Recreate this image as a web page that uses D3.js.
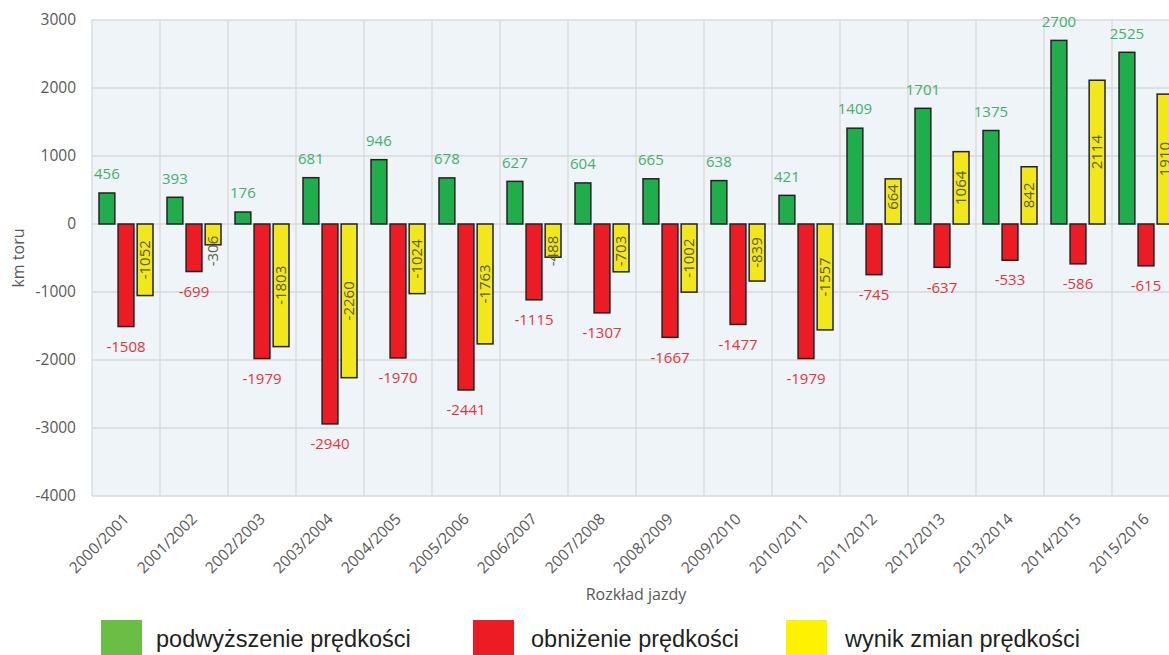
<!DOCTYPE html>
<html>
<head>
<meta charset="utf-8">
<script src="https://cdn.jsdelivr.net/npm/d3@7"></script>
<style>
  body { margin: 0; background: #fff; }
  svg { display: block; font-family: "Open Sans", sans-serif; }
</style>
</head>
<body>
<div id="container"></div>
<script>
const width = 1169;
const height = 655;

const seasons = ['2000/2001','2001/2002','2002/2003','2003/2004','2004/2005','2005/2006','2006/2007','2007/2008',
  '2008/2009','2009/2010','2010/2011','2011/2012','2012/2013','2013/2014','2014/2015','2015/2016'];
const increase = [456, 393, 176, 681, 946, 678, 627, 604, 665, 638, 421, 1409, 1701, 1375, 2700, 2525];
const decrease = [-1508, -699, -1979, -2940, -1970, -2441, -1115, -1307, -1667, -1477, -1979, -745, -637, -533, -586, -615];
const net = [-1052, -306, -1803, -2260, -1024, -1763, -488, -703, -1002, -839, -1557, 664, 1064, 842, 2114, 1910];
const seriesNames = ['podwyższenie prędkości', 'obniżenie prędkości', 'wynik zmian prędkości'];
const yTicks = [-4000, -3000, -2000, -1000, 0, 1000, 2000, 3000];

const barColors = ['#1fae4b', '#ed1c24', '#f2e71c'];
const legendColors = ['#6cbd45', '#ed1c24', '#fff200'];

const svg = d3.select("#container")
  .append("svg")
  .attr("width", width)
  .attr("height", height);

const x = d3.scaleBand().domain(seasons).range([92, 92 + 68 * seasons.length]);
const x1 = d3.scaleBand().domain([0, 1, 2]).range([7, 61]).paddingInner(0.17);
const y = d3.scaleLinear().domain([-4000, 3000]).range([496, 20]);

// plot background
svg.append("rect")
  .attr("x", x.range()[0]).attr("y", y(3000))
  .attr("width", x.range()[1] - x.range()[0])
  .attr("height", y(-4000) - y(3000))
  .attr("fill", "#eff4f8");

// grid
svg.append("g")
  .selectAll("line")
  .data(yTicks)
  .enter().append("line")
  .attr("x1", x.range()[0]).attr("x2", x.range()[1])
  .attr("y1", d => y(d)).attr("y2", d => y(d))
  .attr("stroke", "#d9d9d9").attr("stroke-width", 1.3);

svg.append("g")
  .selectAll("line")
  .data(seasons.concat(["end"]))
  .enter().append("line")
  .attr("x1", (d, i) => x.range()[0] + i * x.step())
  .attr("x2", (d, i) => x.range()[0] + i * x.step())
  .attr("y1", y(3000)).attr("y2", y(-4000))
  .attr("stroke", "#d9d9d9").attr("stroke-width", 1.3);

// y axis labels
svg.append("g")
  .selectAll("text")
  .data(yTicks)
  .enter().append("text")
  .attr("x", 76)
  .attr("y", d => y(d))
  .attr("dy", "0.35em")
  .attr("text-anchor", "end")
  .attr("fill", "#595959")
  .attr("font-size", 15.5)
  .text(d => d);

svg.append("text")
  .attr("transform", `translate(24, 258) rotate(-90)`)
  .attr("text-anchor", "middle")
  .attr("fill", "#595959")
  .attr("font-size", 16)
  .text("km toru");

// x axis labels
svg.append("g")
  .selectAll("text")
  .data(seasons)
  .enter().append("text")
  .attr("transform", d => `translate(${x(d) + x.bandwidth() / 2 + 4}, 520) rotate(-45)`)
  .attr("text-anchor", "end")
  .attr("fill", "#595959")
  .attr("font-size", 15.5)
  .text(d => d);

svg.append("text")
  .attr("x", 636).attr("y", 600)
  .attr("text-anchor", "middle")
  .attr("fill", "#595959")
  .attr("font-size", 16)
  .text("Rozkład jazdy");

// bars
const rows = seasons.map((s, i) => ({ season: s, vals: [increase[i], decrease[i], net[i]] }));

const groups = svg.append("g")
  .selectAll("g")
  .data(rows)
  .enter().append("g")
  .attr("transform", d => `translate(${x(d.season)},0)`);

groups.selectAll("rect")
  .data(d => d.vals.map((v, k) => ({ v, k })))
  .enter().append("rect")
  .attr("x", d => x1(d.k))
  .attr("width", x1.bandwidth())
  .attr("y", d => y(Math.max(0, d.v)))
  .attr("height", d => Math.abs(y(d.v) - y(0)))
  .attr("fill", d => barColors[d.k])
  .attr("stroke", "#222")
  .attr("stroke-width", 1.5);

// green labels above
groups.append("text")
  .attr("x", x1(0) + x1.bandwidth() / 2)
  .attr("y", d => y(d.vals[0]) - 19)
  .attr("dy", "0.35em")
  .attr("text-anchor", "middle")
  .attr("fill", "#44b06b")
  .attr("font-size", 15)
  .text(d => d.vals[0]);

// red labels below
groups.append("text")
  .attr("x", x1(1) + x1.bandwidth() / 2)
  .attr("y", d => y(d.vals[1]) + 20)
  .attr("dy", "0.35em")
  .attr("text-anchor", "middle")
  .attr("fill", "#e2353c")
  .attr("font-size", 15)
  .text(d => d.vals[1]);

// yellow labels rotated, inside bar
groups.append("text")
  .attr("transform", d => {
    const v = d.vals[2];
    const half = Math.abs(y(v) - y(0)) / 2;
    const off = Math.max(half, 27);
    const cy = v < 0 ? y(0) + off : y(0) - off;
    return `translate(${x1(2) + x1.bandwidth() / 2}, ${cy}) rotate(-90)`;
  })
  .attr("dy", "0.35em")
  .attr("text-anchor", "middle")
  .attr("fill", "#5e5e45")
  .attr("font-size", 15)
  .text(d => d.vals[2]);

// legend
const legendX = [101, 473, 786];
const legend = svg.append("g")
  .selectAll("g")
  .data(seriesNames)
  .enter().append("g")
  .attr("transform", (d, i) => `translate(${legendX[i]}, 620)`);

legend.append("rect")
  .attr("width", 41).attr("height", 35)
  .attr("fill", (d, i) => legendColors[i]);

legend.append("text")
  .attr("x", (d, i) => [55, 58, 59][i])
  .attr("y", 27)
  .attr("fill", "#231f20")
  .attr("font-family", "'Liberation Sans', Arial, sans-serif")
  .attr("font-size", 23.5)
  .text(d => d);
</script>
</body>
</html>
